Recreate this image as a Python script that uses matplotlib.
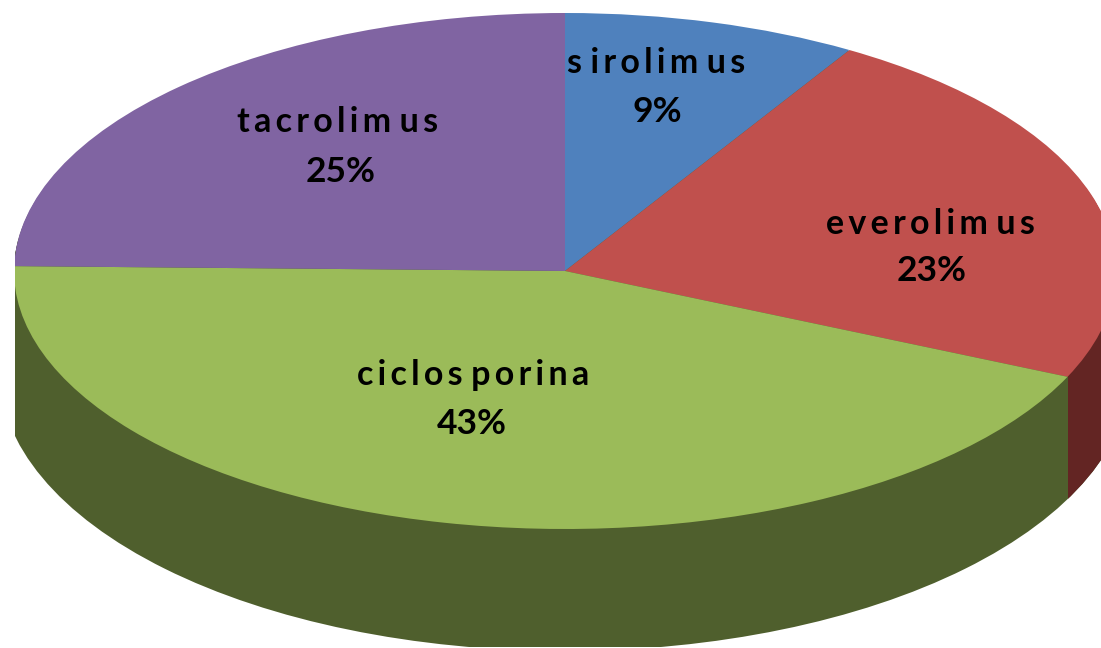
import numpy as np
import matplotlib
matplotlib.use('Agg')
import matplotlib.pyplot as plt
from matplotlib.patches import Ellipse, Rectangle

# Slice data, clockwise from 12 o'clock
drugs = ['sirolimus', 'everolimus', 'ciclosporina', 'tacrolimus']
share_labels = ['9%', '23%', '43%', '25%']
slice_sizes = [8.6, 23.0, 43.4, 24.6]
# word gaps as they appear in the picture
shown_names = ['s irolim us', 'everolim us', 'ciclos porina', 'tacrolim us']
top_colors = ['#4F81BD', '#C0504D', '#9BBB59', '#8064A2']

HAIR = '\u200a'
THIN = '\u2009'

W, H = 1101, 648
# Pie geometry in pixels
CX, CY, RX, RY = 565, 271, 551, 258
CLIP_L, CLIP_T, CLIP_B = 15, 13, 647


def spaced(name):
    return (HAIR + HAIR).join(name).replace(HAIR + HAIR + ' ' + HAIR + HAIR, THIN + THIN)


fig = plt.figure(figsize=(W / 100, H / 100), dpi=100, facecolor='white')
ax = fig.add_axes([CLIP_L / W, (H - CLIP_B) / H, (W - CLIP_L) / W, (CLIP_B - CLIP_T) / H])

# Top face
top, _ = ax.pie(slice_sizes, colors=top_colors, startangle=90, counterclock=False,
                wedgeprops=dict(linewidth=0, zorder=5))
for w in top:
    w.set_clip_on(True)

ax.set_aspect('auto')
ax.set_xlim((CLIP_L - CX) / RX, (W - CX) / RX)
ax.set_ylim((CY - CLIP_B) / RY, (CY - CLIP_T) / RY)

# Extruded side: stack of ellipses moving down and growing (perspective)
divider = np.sin(2 * np.pi * (slice_sizes[0] + slice_sizes[1]) / sum(slice_sizes))
n_layers = 60
for i in range(n_layers, 0, -1):
    t = i / n_layers
    xy = (0, -0.384 * t)
    width = 2 * (1 + 0.027 * t)
    height = 2 * (1 + 0.089 * t)
    ax.add_patch(Ellipse(xy, width, height, color='#4F5F2D', linewidth=0, zorder=2))
    side = Ellipse(xy, width, height, color='#632523', linewidth=0, zorder=3)
    ax.add_patch(side)
    side.set_clip_path(Rectangle((divider, -3), 3, 6, transform=ax.transData))

# Labels (pixel positions: name, percent)
label_pos = [((656, 63), (657, 112)), ((930, 224), (932, 271)),
             ((473, 375), (472, 424)), ((338, 122), (341, 172))]
for name, share, (p1, p2) in zip(shown_names, share_labels, label_pos):
    fig.text(p1[0] / W, 1 - p1[1] / H, spaced(name), family='Lato', weight='bold',
             fontsize=24.5, ha='center', va='center', color='black')
    fig.text(p2[0] / W, 1 - p2[1] / H, share, family='Lato', weight='bold',
             fontsize=25.5, ha='center', va='center', color='black')

fig.savefig('out.png', dpi=100)
